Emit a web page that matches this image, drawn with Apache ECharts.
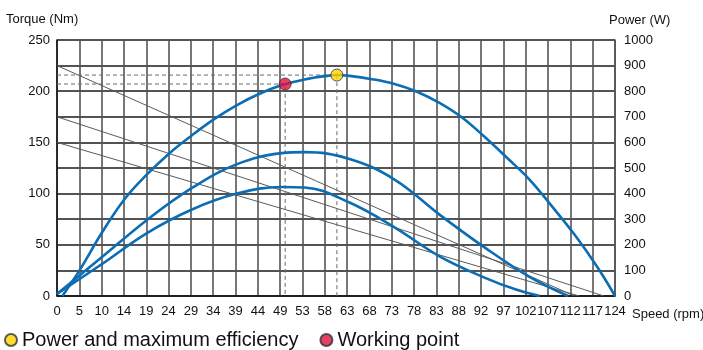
<!DOCTYPE html>
<html>
<head>
<meta charset="utf-8">
<script src="https://cdn.jsdelivr.net/npm/echarts@6/dist/echarts.min.js"></script>
<style>
  html, body { margin: 0; padding: 0; background: #fff; }
  #chart { width: 703px; height: 350px; }
</style>
</head>
<body>
<div id="chart"></div>
<script>
// Speed axis: 25 equal divisions up to 124 rpm, labelled as printed on the sheet
const speedMax = 124;
const speedLabels = ['0','5','10','14','19','24','29','34','39','44','49','53','58','63','68','73','78','83','88','92','97','102','107','112','117','124'];

// Power curves [speed rpm, power W]
const powerHigh = [[1.2,0],[5,100],[10,248],[15,378],[20,475],[25,558],[30,628],[35,692],[40,746],[45,790],[50,824],[55,846],[60,860],[62.2,863],[65,860],[70,847],[75,828],[80,798],[85,754],[90,697],[95,622],[100,540],[105,455],[110,350],[115,240],[120,115],[124,0]];
const powerMid = [[0,8],[10,152],[20,297],[30,422],[40,515],[50,558],[55,562],[65,535],[75,455],[85,318],[95,190],[105,75],[113.6,0]];
const powerLow = [[0,8],[10,125],[20,246],[30,338],[40,400],[50,426],[55,424],[65,365],[75,268],[85,155],[95,72],[102,25],[107.3,0]];

// Torque-speed lines [speed rpm, torque Nm]
const torqueA = [[0,225],[115,0]];
const torqueB = [[0,175],[121.5,0]];
const torqueC = [[0,150],[116,0]];

// Marked operating points [speed rpm, power W]
const maxEfficiencyPoint = [62.2, 863];
const workingPoint = [50.7, 828];

const blue = '#0b6db3';
const thin = '#5a5a5a';
const font = 'Liberation Sans, Arial, sans-serif';

function guide(pt) {
  return [[0, pt[1]], [pt[0], pt[1]], [pt[0], 0]];
}
function curve(data) {
  return {
    type: 'line', yAxisIndex: 1, data: data, smooth: 0.4, showSymbol: false,
    lineStyle: { color: blue, width: 2.6 }, silent: true, z: 4
  };
}
function torqueLine(data) {
  return {
    type: 'line', yAxisIndex: 0, data: data, showSymbol: false,
    lineStyle: { color: thin, width: 1 }, silent: true, z: 3
  };
}
function guideLine(pt) {
  return {
    type: 'line', yAxisIndex: 1, data: guide(pt), showSymbol: false,
    lineStyle: { color: '#6a6a6a', width: 1, type: [4, 3] }, silent: true, z: 3
  };
}
function axisName(text, x, y) {
  return { type: 'text', left: x, top: y, style: { text: text, fontSize: 13, fontFamily: font, fill: '#111' } };
}

const chart = echarts.init(document.getElementById('chart'), null, { renderer: 'canvas' });

chart.setOption({
  animation: false,
  textStyle: { fontFamily: font },
  grid: { left: 57, right: 88, top: 40, bottom: 54 },
  graphic: [
    axisName('Torque (Nm)', 6, 13),
    axisName('Power (W)', 609, 14),
    axisName('Speed (rpm)', 632, 308)
  ],
  legend: {
    left: -1, top: 325, itemGap: 21, itemWidth: 12, itemHeight: 12,
    icon: 'circle',
    textStyle: { fontSize: 20, color: '#111', fontFamily: font, padding: [0, 0, 0, 0] },
    data: ['Power and maximum efficiency', 'Working point']
  },
  xAxis: {
    type: 'value', min: 0, max: speedMax, interval: speedMax / 25,
    axisLine: { show: true, lineStyle: { color: '#111', width: 1.5 } },
    axisTick: { show: false },
    axisLabel: {
      fontSize: 13, color: '#111', margin: 9, showMaxLabel: true, showMinLabel: true,
      formatter: function (v) { return speedLabels[Math.round(v / (speedMax / 25))] || ''; }
    },
    splitLine: { show: true, lineStyle: { color: '#555', width: 1.6 } }
  },
  yAxis: [
    {
      type: 'value', min: 0, max: 250, interval: 25,
      axisLine: { show: true, lineStyle: { color: '#111', width: 1.5 } },
      axisTick: { show: false },
      axisLabel: {
        fontSize: 13, color: '#111', margin: 7,
        formatter: function (v) { return v % 50 === 0 ? String(v) : ''; }
      },
      splitLine: { show: true, lineStyle: { color: '#1a1a1a', width: 1.5 } }
    },
    {
      type: 'value', min: 0, max: 1000, interval: 100,
      axisLine: { show: true, lineStyle: { color: '#555', width: 1.6 } },
      axisTick: { show: false },
      axisLabel: { fontSize: 13, color: '#111', margin: 9, formatter: function (v) { return String(v); } },
      splitLine: { show: false }
    }
  ],
  series: [
    torqueLine(torqueA),
    torqueLine(torqueB),
    torqueLine(torqueC),
    guideLine(maxEfficiencyPoint),
    guideLine(workingPoint),
    curve(powerHigh),
    curve(powerMid),
    curve(powerLow),
    {
      name: 'Power and maximum efficiency', type: 'scatter', yAxisIndex: 1,
      data: [maxEfficiencyPoint], symbolSize: 12, z: 6,
      itemStyle: { color: '#ffd400', borderColor: '#333', borderWidth: 1 }
    },
    {
      name: 'Working point', type: 'scatter', yAxisIndex: 1,
      data: [workingPoint], symbolSize: 12, z: 6,
      itemStyle: { color: '#e0103f', borderColor: '#333', borderWidth: 1 }
    }
  ]
});
</script>
</body>
</html>
